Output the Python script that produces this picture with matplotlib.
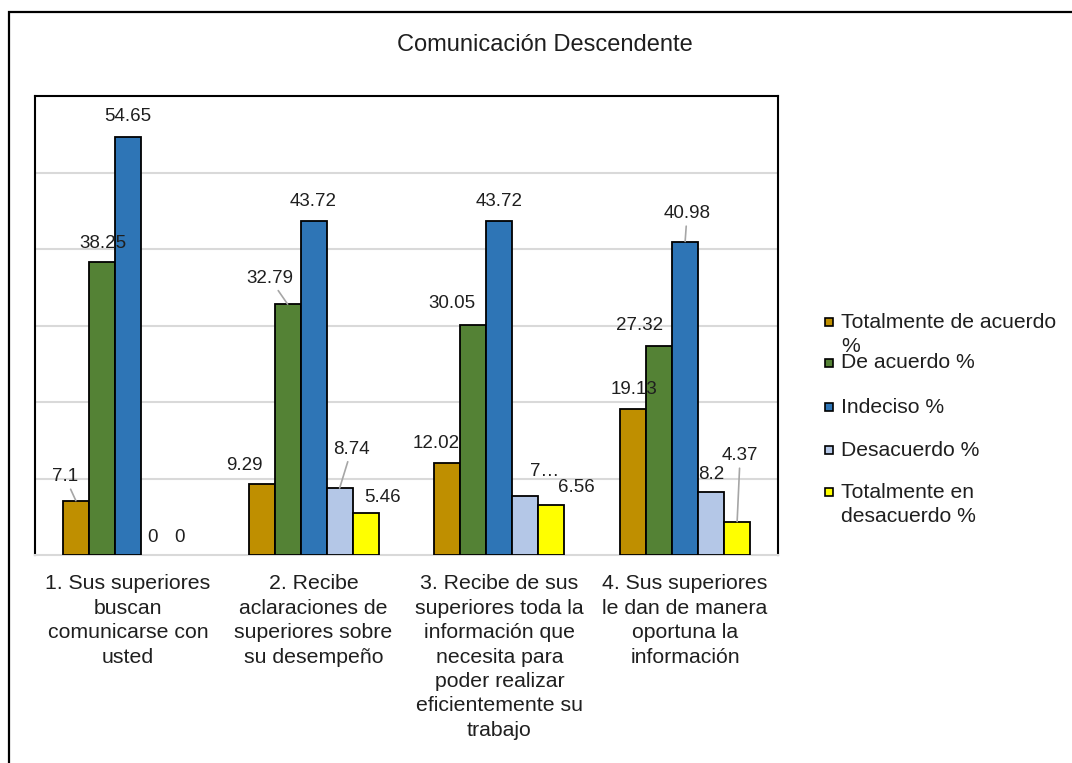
import matplotlib
matplotlib.use('Agg')
import matplotlib.pyplot as plt
import numpy as np
from matplotlib.patches import Rectangle

plt.rcParams['font.family'] = ['Liberation Sans', 'DejaVu Sans']

categories = ["1. Sus superiores\nbuscan\ncomunicarse con\nusted",
              "2. Recibe\naclaraciones de\nsuperiores sobre\nsu desempeño",
              "3. Recibe de sus\nsuperiores toda la\ninformación que\nnecesita para\npoder realizar\neficientemente su\ntrabajo",
              "4. Sus superiores\nle dan de manera\noportuna la\ninformación"]
series_names = ["Totalmente de acuerdo\n%", "De acuerdo %", "Indeciso %",
                "Desacuerdo %", "Totalmente en\ndesacuerdo %"]
totalmente_acuerdo = [7.1, 9.29, 12.02, 19.13]
de_acuerdo = [38.25, 32.79, 30.05, 27.32]
indeciso = [54.65, 43.72, 43.72, 40.98]
desacuerdo = [0, 8.74, 7.65, 8.2]
totalmente_desacuerdo = [0, 5.46, 6.56, 4.37]
series = [totalmente_acuerdo, de_acuerdo, indeciso, desacuerdo, totalmente_desacuerdo]
colors = ['#BF8F00', '#548235', '#2E75B6', '#B4C7E7', '#FFFF00']

# label placement (pixels from bar top centre) and leader lines, as in the source
offsets = {
    (0, 0): (-11, 24), (1, 0): (1, 19), (2, 0): (0, 20), (3, 0): (-1, 18), (4, 0): (0, 18),
    (0, 1): (-17, 18), (1, 1): (-18, 26), (2, 1): (0, 19), (3, 1): (12, 39), (4, 1): (17, 16),
    (0, 2): (-11, 20), (1, 2): (-21, 22), (2, 2): (0, 19), (3, 2): (19, 25), (4, 2): (25, 17),
    (0, 3): (1, 19), (1, 3): (-20, 21), (2, 3): (2, 28), (3, 3): (0, 18), (4, 3): (3, 66),
}
leaders = [(0, 0), (1, 1), (3, 1), (2, 3), (4, 3)]
truncated = {(3, 2): "7\u2026"}

W, H = 1072, 763
fig = plt.figure(figsize=(W / 100, H / 100), dpi=100)
ax = fig.add_axes([35 / W, 1 - 555 / H, (778 - 35) / W, (555 - 96) / H])

x = np.arange(len(categories))
width = 0.14
for i, vals in enumerate(series):
    pos = x + (i - 2) * width
    lws = [1.3 if v > 0 else 0 for v in vals]
    ax.bar(pos, vals, width, color=colors[i], edgecolor='black', linewidth=lws, zorder=3)
    for j, v in enumerate(vals):
        txt = truncated.get((i, j), f"{v:g}")
        dx, dy = offsets[(i, j)]
        kw = {}
        if (i, j) in leaders:
            kw['arrowprops'] = dict(arrowstyle='-', color='#A6A6A6', lw=1.2, shrinkA=1, shrinkB=0)
        ax.annotate(txt, xy=(pos[j], v), xytext=(dx, dy), textcoords='offset pixels',
                    ha='center', va='center', fontsize=13.5, color='#1f1f1f', zorder=4, **kw)

ax.set_xlim(-0.5, 3.5)
ax.set_ylim(0, 60)
ax.set_yticks([10, 20, 30, 40, 50])
ax.yaxis.grid(True, color='#D9D9D9', linewidth=1.5, zorder=0)
ax.tick_params(axis='y', length=0, labelleft=False)
ax.set_xticks(x)
ax.set_xticklabels(categories, fontsize=15.3, color='#1f1f1f', linespacing=1.36)
ax.tick_params(axis='x', length=0, pad=14)
for s in ['left', 'top', 'right']:
    ax.spines[s].set_color('black')
    ax.spines[s].set_linewidth(1.5)
ax.spines['bottom'].set_color('#D9D9D9')
ax.spines['bottom'].set_linewidth(1.5)

fig.text(545 / W, 1 - 45 / H, "Comunicación Descendente", ha='center', va='center',
         fontsize=17, color='#1f1f1f')

# legend
leg_y = [322, 363, 407, 450, 492]
for i, name in enumerate(series_names):
    yc = leg_y[i]
    fig.add_artist(Rectangle((825 / W, 1 - (yc + 4) / H), 8 / W, 8 / H, transform=fig.transFigure,
                             facecolor=colors[i], edgecolor='black', linewidth=1.2))
    nl = name.count('\n')
    fig.text(841 / W, 1 - (yc + nl * 12.5) / H, name, ha='left', va='center', fontsize=15.2,
             color='#1f1f1f', linespacing=1.33)

# outer chart border
fig.add_artist(Rectangle((9 / W, -0.5), 2, 1.5 - 12 / H, transform=fig.transFigure,
                         fill=False, edgecolor='black', linewidth=1.6))

fig.savefig('out.png', dpi=100)
